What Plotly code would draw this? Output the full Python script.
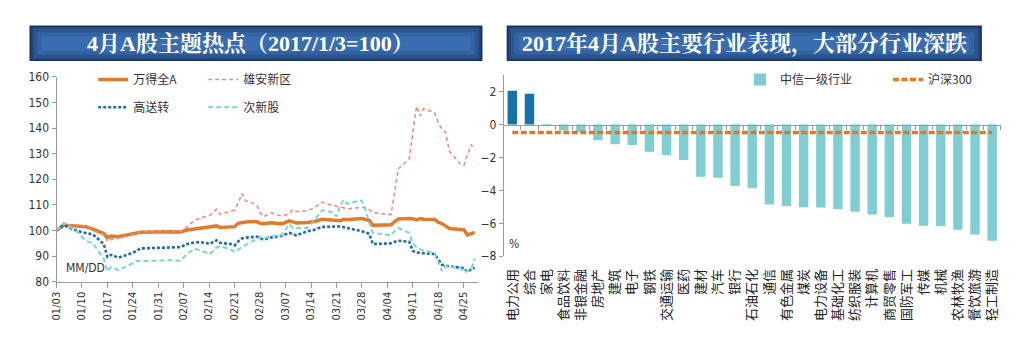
import plotly.graph_objects as go

W, H = 1028, 355

# ---------------- data: left chart (2017/1/3 = 100) ----------------
dates = ["2017-01-03", "2017-01-05", "2017-01-06", "2017-01-09", "2017-01-11", "2017-01-13",
         "2017-01-16", "2017-01-17", "2017-01-18", "2017-01-20", "2017-01-23", "2017-01-25",
         "2017-01-26",
         "2017-02-03", "2017-02-06", "2017-02-08", "2017-02-10", "2017-02-13", "2017-02-14",
         "2017-02-16", "2017-02-17", "2017-02-20", "2017-02-21", "2017-02-22", "2017-02-23",
         "2017-02-24", "2017-02-27", "2017-02-28",
         "2017-03-01", "2017-03-03", "2017-03-06", "2017-03-08", "2017-03-09", "2017-03-10",
         "2017-03-13", "2017-03-15", "2017-03-17", "2017-03-20", "2017-03-21", "2017-03-22",
         "2017-03-23", "2017-03-24", "2017-03-27", "2017-03-28", "2017-03-29", "2017-03-30",
         "2017-03-31",
         "2017-04-05", "2017-04-06", "2017-04-07", "2017-04-10", "2017-04-11", "2017-04-12",
         "2017-04-13", "2017-04-14", "2017-04-17", "2017-04-18", "2017-04-19", "2017-04-20",
         "2017-04-21", "2017-04-24", "2017-04-25", "2017-04-26", "2017-04-27", "2017-04-28"]

wind_all_a = [100.0, 102.3, 102.0, 101.8, 101.5, 100.5, 98.8, 97.2, 97.8, 97.6, 98.5, 99.1, 99.3,
              99.5, 99.4, 100.2, 100.6, 101.2, 101.4, 101.8, 101.2, 101.3, 101.5, 102.8, 103.2,
              103.3, 103.5, 102.8,
              102.6, 103.0, 102.6, 103.8, 103.4, 102.9, 103.1, 103.5, 104.4, 103.9, 103.8, 103.8,
              104.4, 104.2, 104.6, 104.7, 104.3, 104.0, 102.0,
              102.2, 103.5, 104.5, 104.7, 104.6, 104.1, 104.7, 104.4, 104.3, 103.2, 102.7, 101.8,
              100.8, 100.4, 100.3, 98.3, 98.8, 99.3]

xiongan = [100.0, 102.6, 102.3, 102.0, 101.8, 100.0, 98.5, 95.7, 96.5, 97.0, 98.3, 99.2, 99.5,
           99.6, 99.5, 101.5, 104.1, 105.5, 105.7, 108.3, 106.3, 107.6, 108.0, 110.8, 114.4,
           111.6, 110.1, 107.0,
           105.4, 106.9, 105.6, 106.5, 108.1, 107.4, 107.6, 109.0, 111.0, 109.8, 109.5, 109.1,
           108.6, 108.5, 108.9, 108.9, 109.0, 108.2, 107.0,
           106.2, 115.5, 124.1, 128.0, 139.0, 148.5, 144.7, 147.6, 146.0, 142.0, 139.5, 138.3,
           131.0, 126.0, 125.4, 129.5, 133.5, 131.6]

gaosongzhuan = [100.0, 102.0, 101.5, 99.7, 99.0, 98.5, 94.7, 89.7, 90.5, 89.4, 90.8, 92.0, 93.0,
                93.3, 93.5, 94.7, 95.4, 95.3, 94.7, 96.2, 95.2, 94.7, 94.2, 95.8, 96.9,
                97.2, 97.6, 97.0,
                96.4, 97.3, 97.9, 99.1, 98.6, 98.1, 99.7, 100.3, 101.4, 101.4, 101.6, 101.6,
                101.3, 101.0, 100.2, 99.7, 99.2, 98.7, 94.7,
                95.0, 95.6, 96.0, 95.6, 92.0, 91.4, 91.2, 91.1, 90.8, 88.7, 86.6, 86.3,
                86.0, 85.5, 85.3, 83.8, 84.8, 85.4]

cixin = [100.0, 102.9, 102.2, 99.1, 96.0, 95.0, 89.0, 84.0, 85.8, 84.5, 86.5, 88.2, 88.0,
         88.4, 88.2, 91.0, 92.9, 91.5, 90.7, 93.3, 94.0, 92.5, 91.6, 92.5, 93.7,
         94.4, 96.6, 97.5,
         96.8, 97.9, 98.1, 102.6, 101.0, 101.0, 101.0, 104.1, 107.9, 107.1, 105.4, 109.8,
         112.0, 110.4, 111.6, 111.6, 108.0, 103.0, 99.1,
         98.1, 99.8, 101.0, 99.1, 95.0, 93.5, 92.7, 92.2, 91.3, 87.5, 84.1, 86.2,
         85.8, 85.5, 83.8, 84.2, 84.6, 89.1]

left_names = ["万得全A", "雄安新区", "高送转", "次新股"]

# ---------------- data: right chart (April 2017 return, %) ----------------
industries = ["电力公用", "综合", "家电", "食品饮料", "非银金融", "房地产", "建筑", "电子", "钢铁",
              "交通运输", "医药", "建材", "汽车", "银行", "石油石化", "通信", "有色金属", "煤炭",
              "电力设备", "基础化工", "纺织服装", "计算机", "商贸零售", "国防军工", "传媒", "机械",
              "农林牧渔", "餐饮旅游", "轻工制造"]
industry_returns = [2.05, 1.87, -0.05, -0.36, -0.45, -0.95, -1.19, -1.25, -1.65, -1.85, -2.16,
                    -3.17, -3.23, -3.73, -3.87, -4.86, -4.95, -5.02, -5.04, -5.13, -5.29, -5.46,
                    -5.62, -6.02, -6.14, -6.18, -6.39, -6.68, -7.06]
hs300_return = -0.49
right_names = ["中信一级行业", "沪深300"]

title_left = "4月A股主题热点（2017/1/3=100）"
title_right = "2017年4月A股主要行业表现，大部分行业深跌"


# ---------------- helpers (pixel -> paper) ----------------
def px(x):
    return x / W


def py(y):
    return 1 - y / H


AX = "#9a9a9a"
NARROW = "Liberation Sans Narrow, DejaVu Sans Condensed, Arial Narrow, sans-serif"
CJK = "Noto Sans CJK SC, sans-serif"

fig = go.Figure()

# left lines
styles = [
    dict(color="#E07A2C", width=3.5, dash="solid"),
    dict(color="#F2857E", width=1.5, dash="4px,3px"),
    dict(color="#1F6EA6", width=2.6, dash="3px,2px"),
    dict(color="#7ED3D6", width=2.0, dash="5px,3px"),
]
series = [wind_all_a, xiongan, gaosongzhuan, cixin]
legends = ["legend", "legend", "legend2", "legend2"]
for name, vals, st, lg in zip(left_names, series, styles, legends):
    fig.add_trace(go.Scatter(x=dates, y=vals, name=name, mode="lines", line=st,
                             xaxis="x", yaxis="y", legend=lg))

# right bars: positive in dark blue, others in teal (same series)
pos_vals = [v if v > 0 else None for v in industry_returns]
neg_vals = [v if v <= 0 else None for v in industry_returns]
fig.add_trace(go.Bar(x=industries, y=pos_vals, name=right_names[0], marker_color="#1673A8",
                     marker_line_width=0, xaxis="x2", yaxis="y2", showlegend=False,
                     legendgroup="ind", legend="legend3"))
fig.add_trace(go.Bar(x=industries, y=neg_vals, name=right_names[0], marker_color="#80CED1",
                     marker_line_width=0, xaxis="x2", yaxis="y2", legendgroup="ind",
                     legend="legend3"))
fig.add_trace(go.Scatter(x=industries, y=[hs300_return] * len(industries), name=right_names[1],
                         mode="lines", line=dict(color="#E37722", width=3.5, dash="6px,2.5px"),
                         xaxis="x3", yaxis="y2", legend="legend3"))

# geometry
L_X0, L_X1, L_Y0, L_Y1 = 44, 480.7, 64.3, 277.7
R_X0, R_X1 = 507, 1021.5
R_YMIN, R_YMAX = -8, 3
R_TOP, R_BOT = 62.6, 251.2
r_dom = [py(R_BOT), py(R_TOP)]
zero_pos = r_dom[0] + (0 - R_YMIN) / (R_YMAX - R_YMIN) * (r_dom[1] - r_dom[0])

fig.update_layout(
    width=W, height=H, autosize=False,
    margin=dict(l=0, r=0, t=0, b=0),
    paper_bgcolor="white", plot_bgcolor="white",
    barmode="overlay", bargap=0.45,
    font=dict(family=CJK, size=12, color="#333333"),
    xaxis=dict(domain=[px(L_X0), px(L_X1)], type="date",
               range=["2017-01-03", "2017-04-29"],
               tick0="2017-01-03", dtick=7 * 86400000, tickformat="%m/%d",
               tickangle=-90, ticks="outside", ticklen=5, tickcolor=AX,
               showline=True, linecolor=AX, linewidth=1, showgrid=False, zeroline=False,
               tickfont=dict(family="DejaVu Sans, sans-serif", size=10, color="#333"),
               anchor="y"),
    yaxis=dict(domain=[py(L_Y1), py(L_Y0)], range=[80, 160], dtick=10,
               ticks="outside", ticklen=4, tickcolor=AX, showline=True, linecolor=AX,
               showgrid=False, zeroline=False,
               tickfont=dict(family=NARROW, size=12, color="#333"), anchor="x"),
    xaxis2=dict(domain=[px(R_X0), px(R_X1)], type="category", categoryarray=industries,
                range=[-0.5, len(industries) - 0.5], tickangle=-90, ticks="",
                showline=False, showgrid=False, zeroline=False, anchor="y2",
                ticklabelstandoff=9,
                tickfont=dict(family=CJK, size=13, color="#222")),
    xaxis3=dict(domain=[px(R_X0), px(R_X1)], type="category", categoryarray=industries,
                range=[-0.5, len(industries) - 0.5], overlaying="x2", anchor="free",
                position=zero_pos, showticklabels=False, ticks="outside", ticklen=4,
                tickcolor=AX, tickson="boundaries", showline=True, linecolor=AX,
                showgrid=False, zeroline=False),
    yaxis2=dict(domain=r_dom, range=[R_YMIN, R_YMAX], tickvals=[2, 0, -2, -4, -6, -8],
                ticks="outside", ticklen=4, tickcolor=AX, showline=True, linecolor=AX,
                showgrid=False, zeroline=False, anchor="x2",
                tickfont=dict(family=NARROW, size=12, color="#333")),
    legend=dict(orientation="h", x=px(82), y=py(52), xanchor="left", yanchor="top",
                entrywidth=65, entrywidthmode="pixels", bgcolor="rgba(0,0,0,0)",
                font=dict(family=CJK, size=12, color="#333"), traceorder="normal"),
    legend2=dict(orientation="h", x=px(82), y=py(81), xanchor="left", yanchor="top",
                 entrywidth=65, entrywidthmode="pixels", bgcolor="rgba(0,0,0,0)",
                 font=dict(family=CJK, size=12, color="#333"), traceorder="normal"),
    legend3=dict(orientation="h", x=px(752), y=py(52), xanchor="left", yanchor="top",
                 entrywidth=103, entrywidthmode="pixels", bgcolor="rgba(0,0,0,0)",
                 font=dict(family=CJK, size=12, color="#333"), traceorder="normal"),
)

# title banners (layered rectangles imitate the bevel)
shapes = []
banner_layers = [(0, 0, "#1B3864"), (2, 2, "#23467A"), (4, 3, "#2B558E"),
                 (8, 7, "#3363A3"), (13, 11, "#3A6DAF")]
for bx0, by0, bx1, by1 in [(16, 11, 485, 48), (510, 11, 1002, 48)]:
    for dx, dy, col in banner_layers:
        shapes.append(dict(type="rect", xref="paper", yref="paper",
                           x0=px(bx0 + dx), x1=px(bx1 - dx), y0=py(by1 - dy), y1=py(by0 + dy),
                           fillcolor=col, line=dict(width=0), layer="above"))
fig.update_layout(shapes=shapes)

TITLE_FONT = dict(family="Liberation Serif, Noto Serif CJK SC, Noto Sans CJK SC, serif",
                  size=22, color="white", weight="bold")
fig.add_annotation(text=title_left, xref="paper", yref="paper", x=px(245), y=py(30),
                   xanchor="center", yanchor="middle", showarrow=False, font=TITLE_FONT)
fig.add_annotation(text=title_right, xref="paper", yref="paper", x=px(756), y=py(30),
                   xanchor="center", yanchor="middle", showarrow=False, font=TITLE_FONT)
fig.add_annotation(text="MM/DD", xref="paper", yref="paper", x=px(52), y=py(263),
                   xanchor="left", yanchor="middle", showarrow=False,
                   font=dict(family=NARROW, size=12, color="#333"))
fig.add_annotation(text="%", xref="paper", yref="paper", x=px(518), y=py(238),
                   xanchor="center", yanchor="middle", showarrow=False,
                   font=dict(family=NARROW, size=12, color="#333"))

fig.write_html("out.html")
